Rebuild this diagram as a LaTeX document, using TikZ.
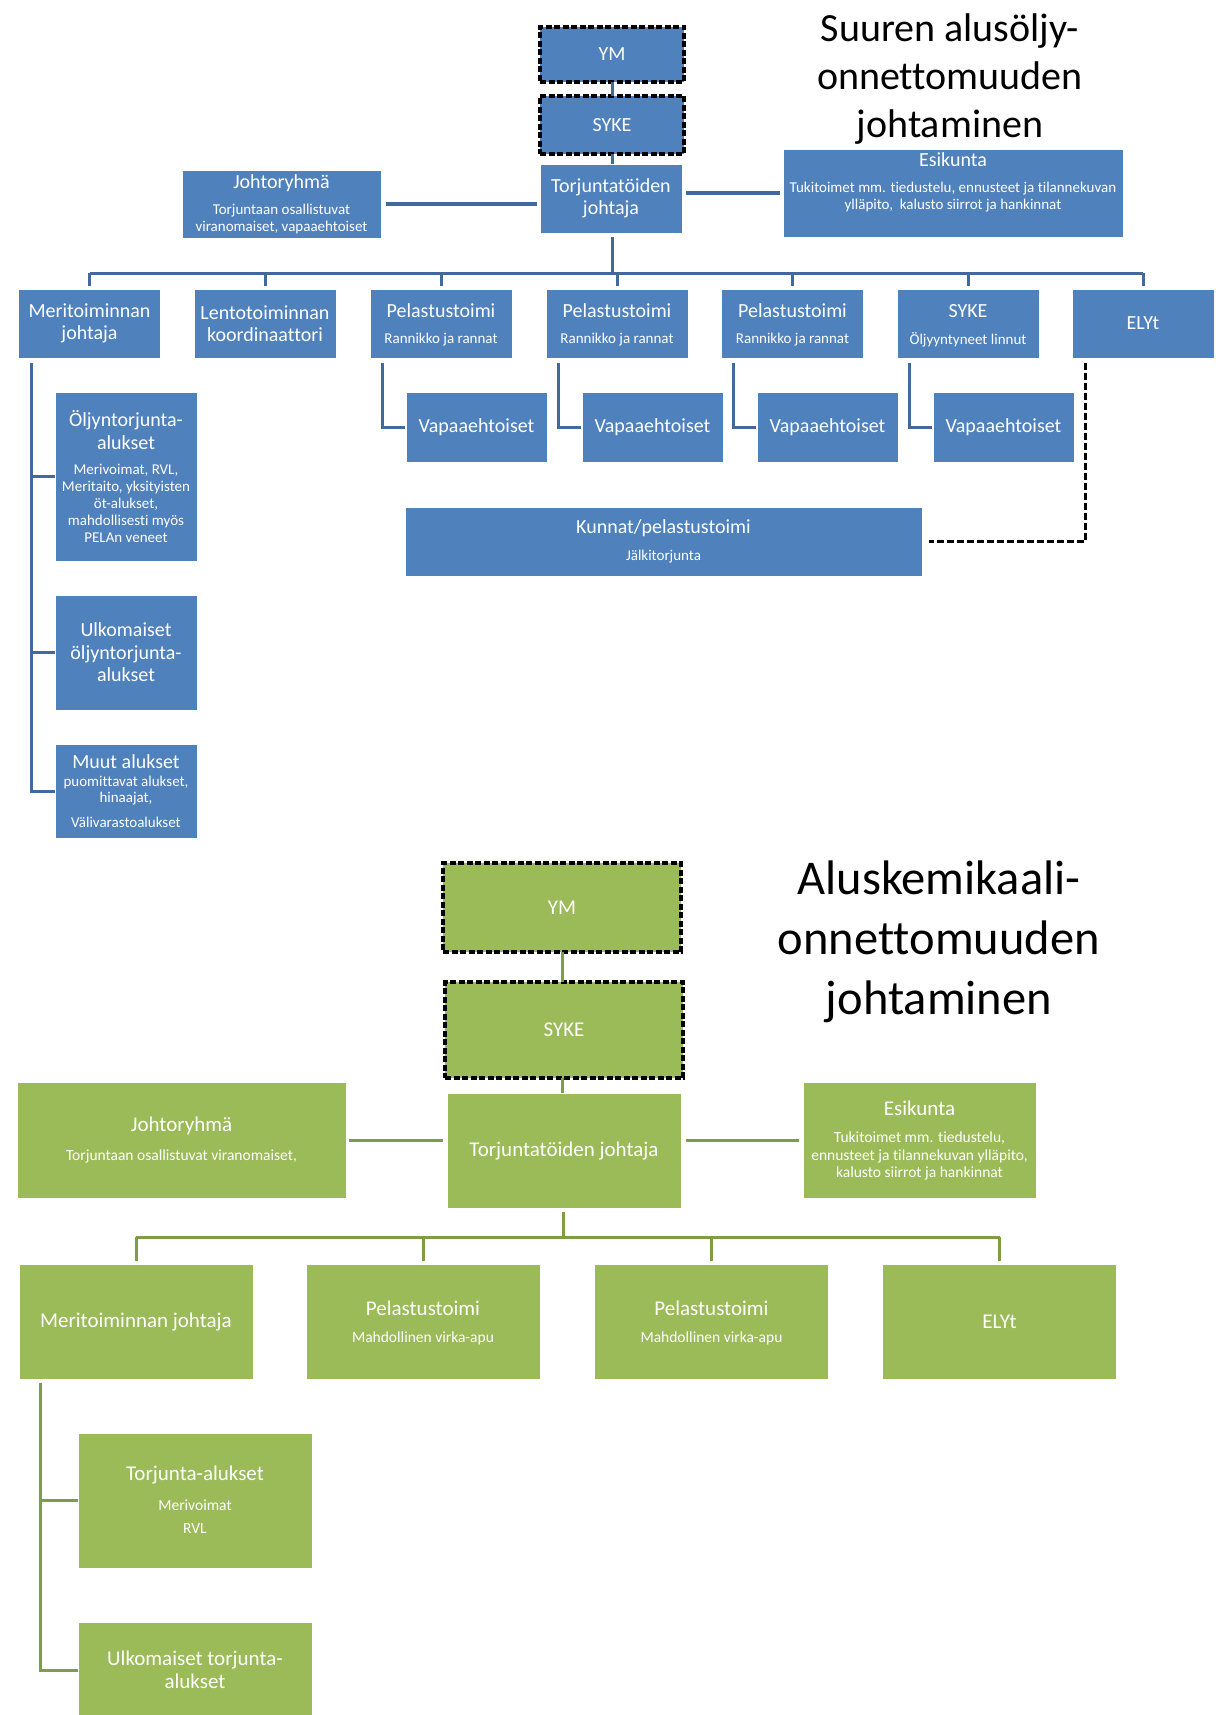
\documentclass[tikz,border=0pt]{standalone}
\usepackage{fontspec}
\setmainfont[Ligatures=NoCommon]{Carlito}
\definecolor{boxblue}{HTML}{4F81BD}
\definecolor{lineblue}{HTML}{41699C}
\definecolor{boxgreen}{HTML}{9BBB59}
\definecolor{linegreen}{HTML}{7E9D45}
\newcommand\myfs[2]{\fontsize{#1}{#2}\selectfont}
\begin{document}
\begin{tikzpicture}[x=1pt,y=-1pt,
  box/.style={rectangle, draw=white, line width=0.6pt, inner sep=0pt, outer sep=0pt, text=white, align=center},
  bb/.style={box, fill=boxblue, font=\myfs{20}{22.5}},
  gb/.style={box, fill=boxgreen, font=\myfs{21}{24}},
  dbox/.style={draw=black, line width=3.2pt, dash pattern=on 6pt off 2.5pt},
  lbl/.style={text=white, align=center, inner sep=0pt},
  bsm/.style={lbl, font=\myfs{15}{16.5}},
  gsm/.style={lbl, font=\myfs{15.5}{17.5}},
  bbig/.style={lbl, font=\myfs{20}{22.5}},
  gbig/.style={lbl, font=\myfs{21}{24}},
  rowb/.style={minimum width=142pt, minimum height=69pt},
  rowg/.style={minimum width=234pt, minimum height=115pt},
  bl/.style={draw=lineblue, line width=3pt},
  gl/.style={draw=linegreen, line width=3pt},
  dl/.style={draw=black, line width=3pt, dash pattern=on 7pt off 3pt},
  ttl/.style={text=black, align=center, inner sep=0pt}
]
\useasboundingbox (0,0) rectangle (1215,1715);
\fill[white] (0,0) rectangle (1215,1715);

% ---------------- Blue part ----------------
\node[ttl, font=\myfs{40}{48}] (ti1) at (950,79) {Suuren alusöljy-\\onnettomuuden\\johtaminen};

\node[bb, dbox, minimum width=144pt, minimum height=55pt] (ym1) at (612,54.5) {YM};
\node[bb, dbox, minimum width=144pt, minimum height=58pt] (syke1) at (612,125) {SYKE};
\node[bb, minimum width=142pt, minimum height=69pt] (tj1) at (611,198.5) {Torjuntatöiden\\johtaja};

\node[bb, minimum width=199pt, minimum height=68pt] (jr1) at (281.5,204) {};
\node[bbig] (jr1t) at (281.5,183) {Johtoryhmä};
\node[bsm, font=\myfs{15}{17}] (jr1s) at (281.5,219.5) {Torjuntaan osallistuvat\\viranomaiset, vapaaehtoiset};

\node[bb, minimum width=340pt, minimum height=88pt] (es1) at (953,193) {};
\node[bbig] (es1t) at (953,160) {Esikunta};
\node[bsm] (es1s) at (953,197) {Tukitoimet mm. tiedustelu, ennusteet ja tilannekuvan\\ylläpito,\ \ kalusto siirrot ja hankinnat};

\node[bb, rowb] (mj1) at (89.5,323.5) {Meritoiminnan\\johtaja};
\node[bb, rowb] (lk1) at (265,323.5) {Lentotoiminnan\\koordinaattori};
\node[bb, rowb] (pe1a) at (441,323.5) {};
\node[bbig] (pe1at) at (441,311) {Pelastustoimi};
\node[bsm] (pe1as) at (441,340) {Rannikko ja rannat};
\node[bb, rowb] (pe1b) at (617,323.5) {};
\node[bbig] (pe1bt) at (617,311) {Pelastustoimi};
\node[bsm] (pe1bs) at (617,340) {Rannikko ja rannat};
\node[bb, rowb] (pe1c) at (792.5,323.5) {};
\node[bbig] (pe1ct) at (792.5,311) {Pelastustoimi};
\node[bsm] (pe1cs) at (792.5,340) {Rannikko ja rannat};
\node[bb, rowb] (sy1) at (968,323.5) {};
\node[bbig] (sy1t) at (968,311) {SYKE};
\node[bsm] (sy1s) at (968,340) {Öljyyntyneet linnut};
\node[bb, rowb] (ely1) at (1143,323.5) {ELYt};

\node[bb, minimum width=141pt, minimum height=70pt] (va1) at (476.5,427) {Vapaaehtoiset};
\node[bb, minimum width=141pt, minimum height=70pt] (va2) at (652.5,427) {Vapaaehtoiset};
\node[bb, minimum width=141pt, minimum height=70pt] (va3) at (827.5,427) {Vapaaehtoiset};
\node[bb, minimum width=141pt, minimum height=70pt] (va4) at (1003.5,427) {Vapaaehtoiset};

\node[bb, minimum width=517pt, minimum height=69pt] (kun1) at (663.5,541.5) {};
\node[bbig] (kun1t) at (663.5,528) {Kunnat/pelastustoimi};
\node[bsm] (kun1s) at (663.5,557) {Jälkitorjunta};

\node[bb, minimum width=142pt, minimum height=169pt] (olj1) at (126,476.5) {};
\node[bbig] (olj1t) at (126,430) {Öljyntorjunta-\\alukset};
\node[bsm, font=\myfs{15}{17}] (olj1s) at (126,503) {Merivoimat, RVL,\\Meritaito, yksityisten\\öt-alukset,\\mahdollisesti myös\\PELAn veneet};

\node[bb, minimum width=142pt, minimum height=115pt] (ulk1) at (126,652.5) {Ulkomaiset\\öljyntorjunta-\\alukset};

\node[bb, minimum width=142pt, minimum height=94pt] (muu1) at (126,791) {};
\node[bbig] (muu1t) at (126,762) {Muut alukset};
\node[bsm, font=\myfs{15}{16}] (muu1s) at (126,791) {puomittavat alukset,\\hinaajat,};
\node[bsm] (muu1v) at (126,822) {Välivarastoalukset};

% blue connectors
\draw[bl] (ym1.south) -- (syke1.north);
\draw[bl] (syke1.south) -- (syke1.south |- tj1.north);
\draw[bl, line width=4pt, shorten <=5pt, shorten >=3pt] (jr1.east) -- (jr1.east -| tj1.west);
\draw[bl, line width=4pt, shorten <=4pt, shorten >=3pt] (es1.west -| tj1.east) -- (es1.west);
\coordinate (bar1) at (612,273);
\draw[bl, shorten <=4pt] (tj1.south -| bar1) -- (bar1);
\draw[bl] (mj1.north |- bar1) -- (ely1.north |- bar1);
\foreach \n in {mj1,lk1,pe1a,pe1b,pe1c,sy1,ely1}
  \draw[bl, shorten >=3pt] (\n.north |- bar1) -- (\n.north);
\draw[bl, shorten >=1pt] ([xshift=12pt,yshift=-5pt]pe1a.south west) |- (va1.west);
\draw[bl, shorten >=1pt] ([xshift=12pt,yshift=-5pt]pe1b.south west) |- (va2.west);
\draw[bl, shorten >=1pt] ([xshift=12pt,yshift=-5pt]pe1c.south west) |- (va3.west);
\draw[bl, shorten >=1pt] ([xshift=12pt,yshift=-5pt]sy1.south west) |- (va4.west);
\draw[dl, shorten >=7pt] ([xshift=13pt,yshift=-5pt]ely1.south west) |- (kun1.east);
\coordinate (t1) at ([xshift=13pt,yshift=-5pt]mj1.south west);
\draw[bl] (t1) |- (muu1.west);
\draw[bl] (t1 |- olj1.west) -- (olj1.west);
\draw[bl] (t1 |- ulk1.west) -- (ulk1.west);

% ---------------- Green part ----------------
\node[ttl, font=\myfs{48.5}{60}] (ti2) at (939,942) {Aluskemikaali-\\onnettomuuden\\johtaminen};

\node[gb, dbox, minimum width=238pt, minimum height=89pt] (ym2) at (562,907.5) {YM};
\node[gb, dbox, minimum width=238pt, minimum height=96pt] (syke2) at (564,1030) {SYKE};
\node[gb, minimum width=234pt, minimum height=115pt] (tj2) at (564,1150.5) {Torjuntatöiden johtaja};

\node[gb, minimum width=329pt, minimum height=116pt] (jr2) at (181.5,1140) {};
\node[gbig] (jr2t) at (181.5,1126) {Johtoryhmä};
\node[gsm] (jr2s) at (181.5,1156) {Torjuntaan osallistuvat viranomaiset,};

\node[gb, minimum width=233pt, minimum height=116pt] (es2) at (919.5,1140) {};
\node[gbig] (es2t) at (919.5,1108) {Esikunta};
\node[gsm] (es2s) at (919.5,1156) {Tukitoimet mm. tiedustelu,\\ennusteet ja tilannekuvan ylläpito,\\kalusto siirrot ja hankinnat};

\node[gb, rowg] (mj2) at (136,1321.5) {Meritoiminnan johtaja};
\node[gb, rowg] (pe2a) at (423,1321.5) {};
\node[gbig] (pe2at) at (423,1308) {Pelastustoimi};
\node[gsm] (pe2as) at (423,1338) {Mahdollinen virka-apu};
\node[gb, rowg] (pe2b) at (711.5,1321.5) {};
\node[gbig] (pe2bt) at (711.5,1308) {Pelastustoimi};
\node[gsm] (pe2bs) at (711.5,1338) {Mahdollinen virka-apu};
\node[gb, rowg] (ely2) at (999.5,1321.5) {ELYt};

\node[gb, minimum width=234pt, minimum height=135pt] (ta2) at (195,1500.5) {};
\node[gbig] (ta2t) at (195,1475) {Torjunta-alukset};
\node[gsm, font=\myfs{15.5}{23}] (ta2s) at (195,1516.5) {Merivoimat\\RVL};

\node[gb, minimum width=234pt, minimum height=96pt, font=\myfs{21}{23}] (uk2) at (195,1670) {Ulkomaiset torjunta-\\alukset};

% green connectors
\draw[gl] (ym2.south) -- (ym2.south |- syke2.north);
\draw[gl] (syke2.south -| ym2.south) -- (ym2.south |- tj2.north);
\draw[gl, shorten <=3pt, shorten >=4pt] (jr2.east) -- (jr2.east -| tj2.west);
\draw[gl, shorten <=5pt, shorten >=4pt] (es2.west -| tj2.east) -- (es2.west);
\coordinate (bar2) at (563,1237);
\draw[gl, shorten <=4pt] (tj2.south -| bar2) -- (bar2);
\draw[gl] (mj2.north |- bar2) -- (ely2.north |- bar2);
\foreach \n in {mj2,pe2a,pe2b,ely2}
  \draw[gl, shorten >=3pt] (\n.north |- bar2) -- (\n.north);
\coordinate (t2) at ([xshift=21pt,yshift=-4pt]mj2.south west);
\draw[gl] (t2) |- (uk2.west);
\draw[gl] (t2 |- ta2.west) -- (ta2.west);
\end{tikzpicture}
\end{document}
